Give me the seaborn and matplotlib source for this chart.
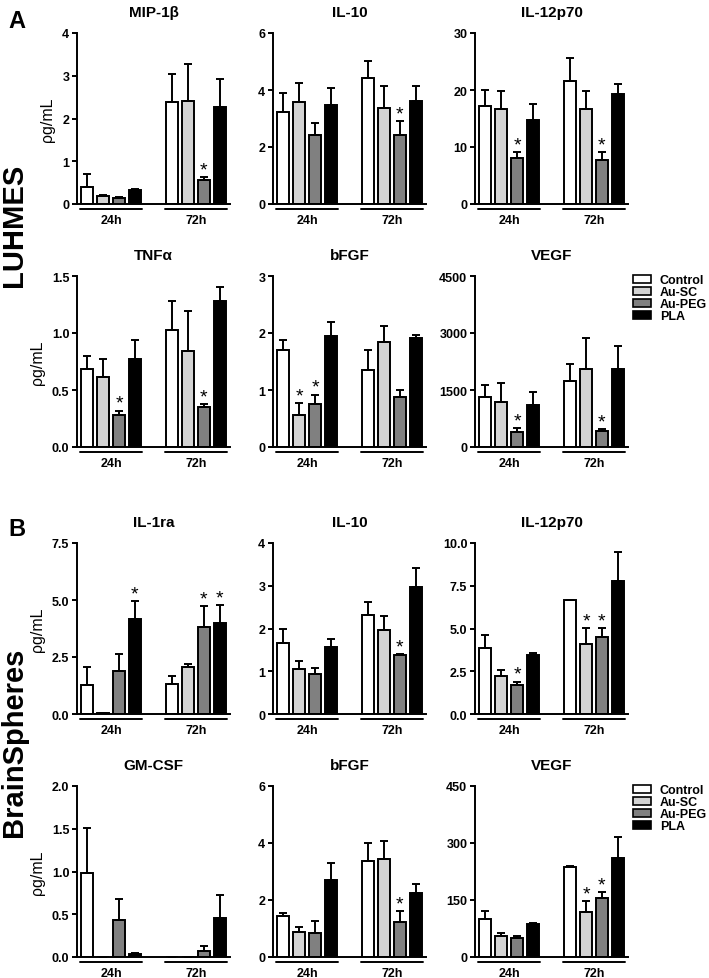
import seaborn as sns
import matplotlib.pyplot as plt
import pandas as pd
from matplotlib.patches import Patch
from matplotlib.transforms import blended_transform_factory

sns.set_style("ticks")
plt.rcParams['font.family'] = ['Liberation Sans', 'DejaVu Sans']
plt.rcParams.update({'text.color': 'black', 'axes.labelcolor': 'black',
                     'xtick.color': 'black', 'ytick.color': 'black',
                     'axes.edgecolor': 'black'})

groups = ["Control", "Au-SC", "Au-PEG", "PLA"]
times = ["24h", "72h"]
colors = ["#ffffff", "#d3d3d3", "#808080", "#000000"]

# values ordered: 24h (Control, Au-SC, Au-PEG, PLA), then 72h (same order)
# --- LUHMES ---
mip1b_mean = [0.39, 0.18, 0.14, 0.33, 2.39, 2.40, 0.55, 2.26]
mip1b_sem = [0.31, 0.03, 0.02, 0.02, 0.65, 0.87, 0.09, 0.66]
mip1b_star = [6]

il10a_mean = [3.22, 3.57, 2.42, 3.49, 4.43, 3.36, 2.42, 3.61]
il10a_sem = [0.67, 0.68, 0.42, 0.57, 0.60, 0.79, 0.50, 0.54]
il10a_star = [6]

il12a_mean = [17.25, 16.67, 8.13, 14.8, 21.6, 16.67, 7.78, 19.3]
il12a_sem = [2.8, 3.1, 0.93, 2.74, 3.96, 3.21, 1.28, 1.8]
il12a_star = [2, 6]

tnfa_mean = [0.68, 0.61, 0.28, 0.77, 1.03, 0.84, 0.35, 1.28]
tnfa_sem = [0.12, 0.16, 0.04, 0.17, 0.25, 0.35, 0.03, 0.12]
tnfa_star = [2, 6]

bfgfa_mean = [1.71, 0.57, 0.75, 1.94, 1.35, 1.84, 0.87, 1.91]
bfgfa_sem = [0.17, 0.20, 0.17, 0.25, 0.36, 0.28, 0.13, 0.05]
bfgfa_star = [1, 2]

vegfa_mean = [1316, 1193, 403, 1096, 1745, 2061, 421, 2061]
vegfa_sem = [315, 500, 88, 360, 448, 798, 53, 605]
vegfa_star = [2, 6]

# --- BrainSpheres ---
il1ra_mean = [1.29, 0.04, 1.90, 4.16, 1.32, 2.06, 3.82, 3.97]
il1ra_sem = [0.77, 0.01, 0.75, 0.81, 0.34, 0.12, 0.93, 0.81]
il1ra_star = [3, 6, 7]

il10b_mean = [1.65, 1.06, 0.94, 1.57, 2.31, 1.96, 1.37, 2.96]
il10b_sem = [0.35, 0.19, 0.14, 0.18, 0.31, 0.33, 0.04, 0.45]
il10b_star = [6]

il12b_mean = [3.86, 2.22, 1.67, 3.43, 6.67, 4.12, 4.51, 7.78]
il12b_sem = [0.74, 0.37, 0.23, 0.16, 0.02, 0.92, 0.53, 1.69]
il12b_star = [2, 5, 6]

gmcsf_mean = [0.98, 0.0, 0.43, 0.03, 0.0, 0.0, 0.07, 0.46]
gmcsf_sem = [0.53, 0.0, 0.25, 0.02, 0.0, 0.0, 0.055, 0.27]
gmcsf_star = []

bfgfb_mean = [1.44, 0.86, 0.85, 2.69, 3.36, 3.45, 1.24, 2.23]
bfgfb_sem = [0.09, 0.18, 0.43, 0.60, 0.65, 0.62, 0.38, 0.33]
bfgfb_star = [6]

vegfb_mean = [98.8, 54.7, 50.3, 86.5, 235.6, 118, 156, 260]
vegfb_sem = [22, 9, 5, 4, 5, 29, 16, 55]
vegfb_star = [5, 6]

fig = plt.figure(figsize=(7.09, 9.79), dpi=100)

col_left = [77 / 709, 273 / 709, 475 / 709]
row_bottom = [1 - 205 / 979, 1 - 448 / 979, 1 - 715 / 979, 1 - 958 / 979]
ax_w = 153 / 709
ax_h = 171 / 979


def panel(r, c, title, mean, sem, stars, ymax, ticks, ticklabels, ylabel=False, legend=False):
    ax = fig.add_axes([col_left[c], row_bottom[r], ax_w, ax_h])
    df = pd.DataFrame({"time": [t for t in times for g in groups],
                       "group": groups * 2,
                       "value": mean})
    sns.barplot(data=df, x="time", y="value", hue="group", hue_order=groups,
                palette=colors, edgecolor="black", linewidth=1.4, width=0.75,
                gap=0.26, errorbar=None, legend=False, ax=ax)
    bar_conts = list(ax.containers)
    for h, cont in enumerate(bar_conts):
        for t, bar in enumerate(cont):
            i = t * 4 + h
            x = bar.get_x() + bar.get_width() / 2
            ax.errorbar(x, mean[i], yerr=[[0], [sem[i]]], fmt='none', ecolor='black',
                        elinewidth=1.4, capsize=2.6, capthick=1.4)
            if i in stars:
                ax.annotate('*', (x, mean[i] + sem[i]), xytext=(0, -1),
                            textcoords='offset points', ha='center', va='bottom',
                            fontsize=14)
    ax.set_xlim(-0.4, 1.4)
    ax.set_ylim(0, ymax)
    ax.set_yticks(ticks)
    ax.set_yticklabels(ticklabels, fontsize=9, fontweight='bold')
    ax.set_xticks([0, 1])
    ax.set_xticklabels(times, fontsize=9, fontweight='bold')
    ax.tick_params(axis='x', length=0, pad=7)
    ax.tick_params(axis='y', length=3.5, width=1.4, pad=2)
    sns.despine(ax=ax)
    for s in ['left', 'bottom']:
        ax.spines[s].set_linewidth(1.4)
    ax.set_xlabel('')
    ax.set_ylabel('ρg/mL' if ylabel else '', fontsize=11.5, labelpad=5)
    ax.set_title(title, fontsize=11, fontweight='bold', pad=12)
    trans = blended_transform_factory(ax.transData, ax.transAxes)
    for cpos in [0, 1]:
        ax.plot([cpos - 0.36, cpos + 0.36], [-0.027, -0.027], transform=trans,
                color='black', lw=1.4, clip_on=False)
    if legend:
        handles = [Patch(facecolor=col, edgecolor='black', linewidth=1.2) for col in colors]
        ax.legend(handles, groups, loc='upper left', bbox_to_anchor=(1.0, 1.04),
                  frameon=False, handlelength=1.45, handleheight=0.6,
                  labelspacing=0.0, handletextpad=0.7, borderaxespad=0,
                  prop={'size': 9, 'weight': 'bold'})
    return ax


panel(0, 0, 'MIP-1β', mip1b_mean, mip1b_sem, mip1b_star, 4, [0, 1, 2, 3, 4],
      ['0', '1', '2', '3', '4'], ylabel=True)
panel(0, 1, 'IL-10', il10a_mean, il10a_sem, il10a_star, 6, [0, 2, 4, 6],
      ['0', '2', '4', '6'])
panel(0, 2, 'IL-12p70', il12a_mean, il12a_sem, il12a_star, 30, [0, 10, 20, 30],
      ['0', '10', '20', '30'])
panel(1, 0, 'TNFα', tnfa_mean, tnfa_sem, tnfa_star, 1.5, [0, 0.5, 1.0, 1.5],
      ['0.0', '0.5', '1.0', '1.5'], ylabel=True)
panel(1, 1, 'bFGF', bfgfa_mean, bfgfa_sem, bfgfa_star, 3, [0, 1, 2, 3],
      ['0', '1', '2', '3'])
panel(1, 2, 'VEGF', vegfa_mean, vegfa_sem, vegfa_star, 4500, [0, 1500, 3000, 4500],
      ['0', '1500', '3000', '4500'], legend=True)

panel(2, 0, 'IL-1ra', il1ra_mean, il1ra_sem, il1ra_star, 7.5, [0, 2.5, 5.0, 7.5],
      ['0.0', '2.5', '5.0', '7.5'], ylabel=True)
panel(2, 1, 'IL-10', il10b_mean, il10b_sem, il10b_star, 4, [0, 1, 2, 3, 4],
      ['0', '1', '2', '3', '4'])
panel(2, 2, 'IL-12p70', il12b_mean, il12b_sem, il12b_star, 10, [0, 2.5, 5.0, 7.5, 10.0],
      ['0.0', '2.5', '5.0', '7.5', '10.0'])
panel(3, 0, 'GM-CSF', gmcsf_mean, gmcsf_sem, gmcsf_star, 2, [0, 0.5, 1.0, 1.5, 2.0],
      ['0.0', '0.5', '1.0', '1.5', '2.0'], ylabel=True)
panel(3, 1, 'bFGF', bfgfb_mean, bfgfb_sem, bfgfb_star, 6, [0, 2, 4, 6],
      ['0', '2', '4', '6'])
panel(3, 2, 'VEGF', vegfb_mean, vegfb_sem, vegfb_star, 450, [0, 150, 300, 450],
      ['0', '150', '300', '450'], legend=True)

fig.text(8 / 709, 1 - 21 / 979, 'A', fontsize=17, fontweight='bold', ha='left', va='center')
fig.text(8 / 709, 1 - 530 / 979, 'B', fontsize=17, fontweight='bold', ha='left', va='center')
fig.text(14 / 709, 1 - 225 / 979, 'LUHMES', rotation=90, fontsize=21,
         fontweight='bold', ha='center', va='center')
fig.text(14 / 709, 1 - 742 / 979, 'BrainSpheres', rotation=90, fontsize=21,
         fontweight='bold', ha='center', va='center')

fig.savefig('out.png', dpi=100)
